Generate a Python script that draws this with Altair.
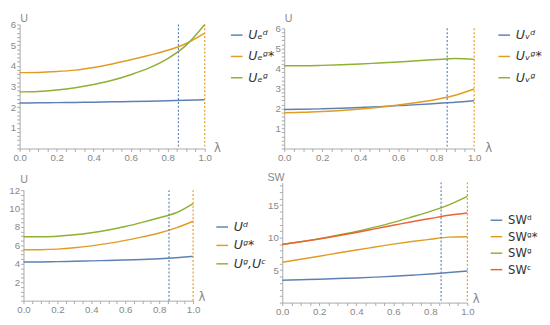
import altair as alt
import pandas as pd

lam = [0.0, 0.1, 0.2, 0.3, 0.4, 0.5, 0.6, 0.7, 0.8, 0.9, 1.0]

# Panel 1 (top left)
ue_d = [2.20, 2.21, 2.22, 2.23, 2.24, 2.26, 2.27, 2.29, 2.31, 2.33, 2.36]
ue_gs = [3.67, 3.68, 3.72, 3.79, 3.92, 4.09, 4.29, 4.51, 4.75, 5.08, 5.58]
ue_g = [2.74, 2.76, 2.83, 2.94, 3.10, 3.30, 3.57, 3.90, 4.35, 5.00, 6.00]
# Panel 2 (top right)
uv_d = [1.95, 1.96, 1.98, 2.01, 2.05, 2.09, 2.14, 2.19, 2.25, 2.31, 2.39]
uv_gs = [1.79, 1.81, 1.85, 1.90, 1.97, 2.06, 2.17, 2.30, 2.45, 2.66, 2.97]
uv_g = [4.13, 4.13, 4.15, 4.18, 4.22, 4.27, 4.32, 4.38, 4.44, 4.49, 4.45]
# Panel 3 (bottom left)
u_d = [4.19, 4.21, 4.24, 4.28, 4.32, 4.37, 4.42, 4.48, 4.56, 4.67, 4.81]
u_gs = [5.53, 5.54, 5.60, 5.74, 5.95, 6.22, 6.55, 6.93, 7.35, 7.90, 8.63]
u_g = [6.94, 6.95, 7.00, 7.15, 7.38, 7.68, 8.05, 8.50, 9.00, 9.55, 10.55]
# Panel 4 (bottom right)
sw_d = [3.45, 3.52, 3.60, 3.70, 3.80, 3.92, 4.05, 4.22, 4.40, 4.62, 4.85]
sw_gs = [6.20, 6.68, 7.15, 7.63, 8.10, 8.55, 9.00, 9.40, 9.75, 10.08, 10.15]
sw_g = [8.95, 9.38, 9.85, 10.38, 10.95, 11.62, 12.35, 13.18, 14.05, 15.05, 16.35]
sw_c = [8.95, 9.37, 9.80, 10.28, 10.80, 11.35, 11.90, 12.45, 12.95, 13.45, 13.80]

names1 = ["Uₑᵈ", "Uₑᵍ*", "Uₑᵍ"]
names2 = ["Uᵥᵈ", "Uᵥᵍ*", "Uᵥᵍ"]
names3 = ["Uᵈ", "Uᵍ*", "Uᵍ,Uᶜ"]
names4 = ["SWᵈ", "SWᵍ*", "SWᵍ", "SWᶜ"]

vline_x = [0.858, 1.0]

BLUE = "#5e81b5"
ORANGE = "#e19c24"
GREEN = "#8fb032"
RED = "#eb6235"
AX = "#a8a8a8"
LB = "#888888"
FONT = "Liberation Sans"

xticks = [round(i * 0.05, 2) for i in range(21)]


def make_panel(names, vals, colors, ymax, ymaj, ymin, width, height, xr, yr,
               xoff, yoff, ytitle, ytx, yty, lam_dx, lam_dy, leg_x, leg_y, leg_pad,
               italic, leg_size):
    rows = []
    for n, v in zip(names, vals):
        for l, y in zip(lam, v):
            rows.append({"lam": l, "val": y, "s": n})
    df = pd.DataFrame(rows)
    yticks = []
    i = 0
    while i * ymin <= ymax + 1e-9:
        yticks.append(round(i * ymin, 3))
        i += 1

    test_x = "abs(datum.value*5-round(datum.value*5))<0.001"
    xaxis = alt.Axis(
        values=xticks,
        labelExpr=f"({test_x}) ? format(datum.value,'.1f') : ''",
        tickSize=3, tickWidth=1,
        labelOverlap=False, labelFlush=False, grid=False, ticks=True,
        domainColor=AX, tickColor=AX, labelColor=LB, labelFontSize=10, labelFont=FONT,
        labelPadding=1, offset=xoff,
        title="λ", titleX=xr[1] + lam_dx, titleY=lam_dy, titleAlign="left",
        titleBaseline="middle", titleColor=LB, titleFontSize=12,
        titleFontWeight="normal", titleFont="DejaVu Sans",
    )
    test_y = f"abs(datum.value/{ymaj}-round(datum.value/{ymaj}))<0.001"
    yaxis = alt.Axis(
        values=yticks,
        labelExpr=f"({test_y}) && datum.value>0 ? format(datum.value,'d') : ''",
        tickSize=3, tickWidth=1,
        labelOverlap=False, labelFlush=False, grid=False, ticks=True,
        domainColor=AX, tickColor=AX, labelColor=LB, labelFontSize=10, labelFont=FONT,
        labelPadding=1, offset=yoff,
        title=ytitle, titleAngle=0, titleX=ytx, titleY=yty, titleAlign="center",
        titleBaseline="alphabetic", titleColor=LB, titleFontSize=11,
        titleFontWeight="normal", titleFont=FONT,
    )
    xs = alt.Scale(domain=[0, 1], range=xr, nice=False, zero=False)
    ys = alt.Scale(domain=[0, ymax], range=yr, nice=False)

    lines = alt.Chart(df).mark_line(interpolate="monotone", strokeWidth=1.5).encode(
        x=alt.X("lam:Q", scale=xs, axis=xaxis),
        y=alt.Y("val:Q", scale=ys, axis=yaxis),
        color=alt.Color(
            "s:N",
            scale=alt.Scale(domain=names, range=colors),
            sort=names,
            legend=alt.Legend(
                title=None, orient="none", legendX=leg_x, legendY=leg_y,
                symbolType="stroke", symbolSize=144, symbolStrokeWidth=1.5,
                labelFontSize=leg_size, labelColor="#333333",
                labelFontStyle="italic" if italic else "normal",
                labelFont="DejaVu Sans", rowPadding=leg_pad, labelOffset=5,
                padding=0,
            ),
        ),
    )
    layers = [lines]
    for xv, c in zip(vline_x, [BLUE, ORANGE]):
        rdf = pd.DataFrame({"lam": [xv]})
        layers.append(
            alt.Chart(rdf).mark_rule(strokeDash=[2, 2], strokeWidth=1.2, color=c).encode(
                x=alt.X("lam:Q", scale=xs, axis=xaxis),
                y=alt.YDatum(ymax, scale=ys, axis=yaxis),
                y2=alt.Y2Datum(0),
            )
        )
    return alt.layer(*layers).properties(width=width, height=height)


p1 = make_panel(names1, [ue_d, ue_gs, ue_g], [BLUE, ORANGE, GREEN], 6, 1, 0.2,
                191, 128, [0, 191], [128, 0], 0, 0, "U", 4, -3, 9, -1,
                217, 4, 8, True, 13)
p2 = make_panel(names2, [uv_d, uv_gs, uv_g], [BLUE, ORANGE, GREEN], 6, 1, 0.2,
                198, 128, [2, 198], [128, 4], 0, -2, "U", 4, -3, 11, -1,
                222, 4, 8, True, 13)
p3 = make_panel(names3, [u_d, u_gs, u_g], [BLUE, ORANGE, GREEN], 12, 2, 0.5,
                191, 124, [4, 179], [122, 8], -2, -4, "U", 0, 0, 5, -4,
                202, 39, 5, True, 13)
p4 = make_panel(names4, [sw_d, sw_gs, sw_g, sw_c], [BLUE, ORANGE, GREEN, RED],
                18.5, 5, 1, 198, 124, [0, 191], [124, 0], 0, 0, "SW", -7, -2, 5, -4,
                214, 32, 4, False, 12)

chart = (
    alt.concat(p1, p2, p3, p4, columns=2, spacing={"row": 35, "column": 80}, bounds="flush")
    .resolve_scale(color="independent")
    .resolve_legend(color="independent")
    .properties(padding=0)
    .configure_view(strokeWidth=0)
    .configure_axis(labelOverlap=False, labelFlush=False, ticks=True, tickColor=AX)
)

chart.save("out.html", embed_options={"renderer": "svg", "actions": False})
